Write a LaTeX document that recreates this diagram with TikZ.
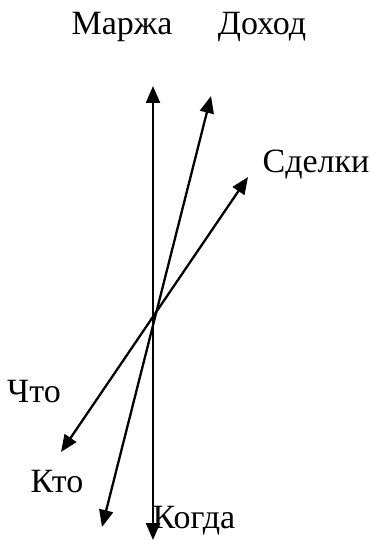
\documentclass[tikz,border=0pt]{standalone}
\usepackage{fontspec}
\setmainfont{Liberation Serif}
\usetikzlibrary{arrows.meta}
\begin{document}
\begin{tikzpicture}[x=1pt,y=-1pt,
  axis/.style={line width=2.3pt,{Triangle[length=17pt,width=14pt]}-{Triangle[length=17pt,width=14pt]}},
  lbl/.style={anchor=base,inner sep=0pt,font=\fontsize{34}{40}\selectfont}]
\useasboundingbox (0,0) rectangle (369,540);
% ends
\coordinate (mtop) at (153,86);
\coordinate (mbot) at (153,540);
\coordinate (dtop) at (211,96);
\coordinate (dbot) at (102,527);
\coordinate (stop) at (248,177);
\coordinate (sbot) at (61,452);
\draw[axis] (mbot) -- (mtop);
\draw[axis] (dbot) -- (dtop);
\draw[axis] (sbot) -- (stop);
% labels
\node[lbl] (marzha) at (122,35) {Маржа};
\node[lbl] (dohod) at (262,35) {Доход};
\node[lbl] (sdelki) at (316,172) {Сделки};
\node[lbl] (chto) at (34,402) {Что};
\node[lbl] (kto) at (57,492) {Кто};
\node[lbl] (kogda) at (194,528) {Когда};
\end{tikzpicture}
\end{document}
